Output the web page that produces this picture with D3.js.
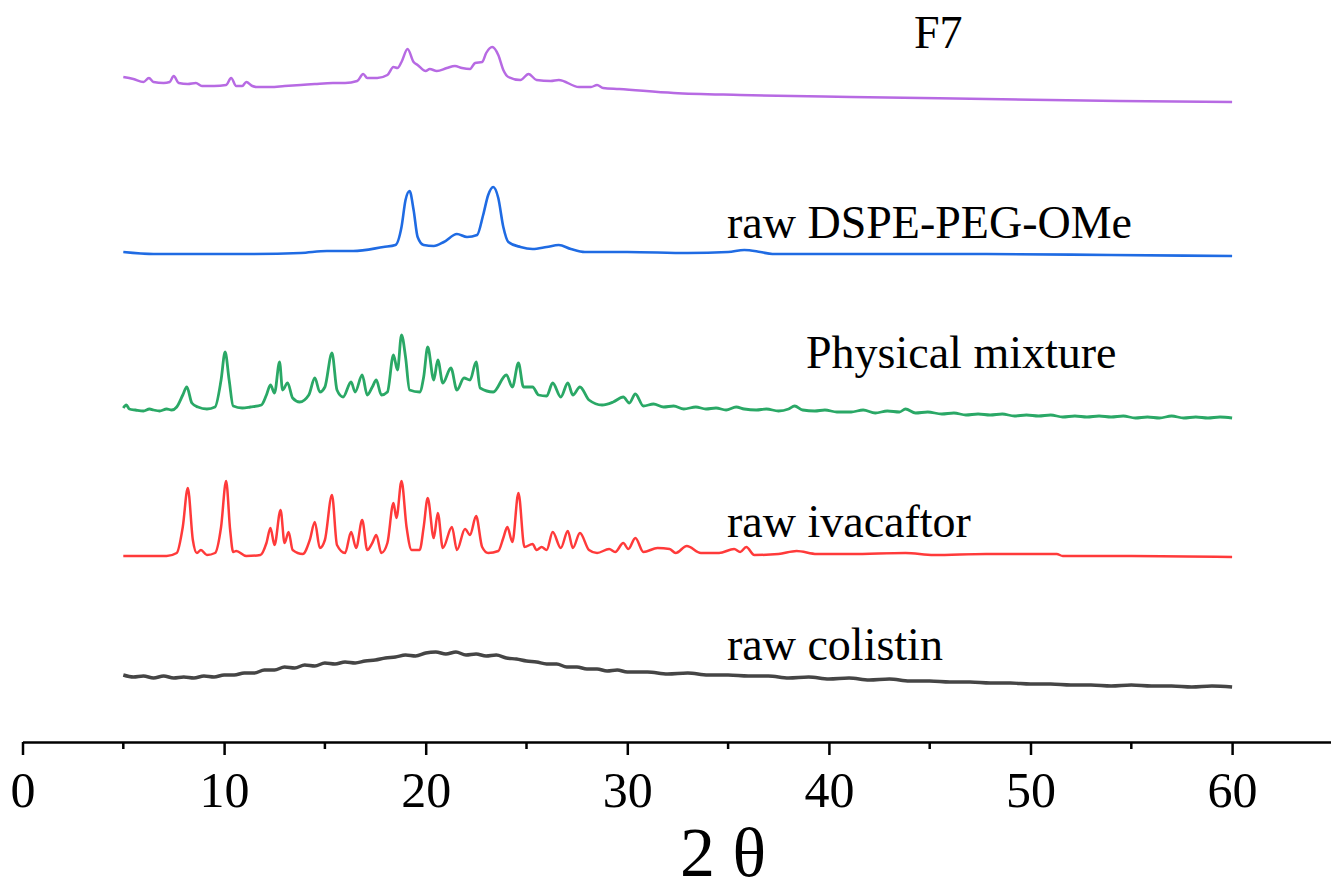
<!DOCTYPE html>
<html>
<head>
<meta charset="utf-8">
<script src="https://cdn.jsdelivr.net/npm/d3@7"></script>
<style>
  body { margin: 0; background: #fff; }
  svg { display: block; font-family: "Liberation Serif", "Times New Roman", serif; }
</style>
</head>
<body>
<div id="chart"></div>
<script>
// XRD patterns, [2 theta, intensity (a.u.)]
const f7 = [[5,25],[5.5,23],[6,20],[6.27,24],[6.5,20],[7,19],[7.3,20],[7.5,26],[7.75,19],[8.2,18],[8.6,19],[8.9,16],[9.5,16],[10.1,17],[10.35,24],[10.6,16],[10.9,16],[11.1,20],[11.4,16],[11.6,15],[12.3,15],[13,16],[13.8,17],[14.5,18],[15.4,19],[16,19],[16.6,21],[16.9,28],[17.1,24],[17.6,24],[18.1,27],[18.4,35],[18.6,34],[18.8,40],[19.1,53],[19.4,40],[19.6,37],[20,31],[20.2,33],[20.55,31],[21.05,34],[21.45,36],[21.8,34],[22.2,33],[22.45,39],[22.8,40],[23,49],[23.3,55],[23.6,47],[23.85,32],[24.1,25],[24.7,22],[25.1,28],[25.5,22],[26.2,21],[26.6,22],[27.6,15],[28.2,15],[28.5,17],[28.8,14],[29.6,13],[32.3,9],[35.6,7],[41.1,5],[47.8,3],[54.4,1],[60,0]];

const dspe = [[5,10],[6.5,8],[8.8,8],[11.3,8],[13.8,9],[15.1,11],[16.4,11],[17.9,15],[18.5,17],[18.8,35],[19,62],[19.2,71],[19.4,52],[19.6,25],[19.9,17],[20.4,16],[20.9,20],[21.55,28],[22.05,25],[22.55,27],[22.85,47],[23.1,67],[23.35,75],[23.6,64],[23.85,35],[24.1,20],[24.7,15],[25.3,13],[26,15],[26.6,17],[27.2,13],[27.9,10],[30,10],[33,9],[35,10],[35.8,12],[36.6,10],[37.2,8],[42,8],[47.8,8],[54,7],[60,6]];

const mixture = [[5,14],[5.15,17],[5.3,13],[5.6,12],[6,11],[6.3,13],[6.5,12],[6.8,11],[7.15,13],[7.4,12],[7.65,15],[7.95,27],[8.15,35],[8.4,19],[8.7,15],[9.15,13],[9.55,15],[9.85,42],[10.05,70],[10.25,42],[10.45,16],[10.9,14],[11.3,15],[11.85,17],[12.1,27],[12.3,37],[12.5,29],[12.75,60],[12.9,32],[13.15,39],[13.4,24],[13.75,20],[14.2,27],[14.5,44],[14.75,30],[15,35],[15.35,69],[15.6,32],[15.9,25],[16.3,40],[16.5,30],[16.85,47],[17.1,27],[17.35,35],[17.55,42],[17.8,27],[18.1,30],[18.4,67],[18.6,52],[18.8,87],[19,65],[19.2,32],[19.7,30],[19.9,45],[20.1,75],[20.4,42],[20.6,62],[20.85,39],[21.25,54],[21.55,32],[21.9,44],[22.2,42],[22.5,60],[22.7,34],[23.35,30],[24,47],[24.3,35],[24.6,59],[24.85,35],[25.3,35],[25.6,27],[26,26],[26.3,39],[26.7,25],[27.05,39],[27.3,27],[27.65,35],[28.1,22],[28.75,17],[29.3,20],[29.8,25],[30.1,19],[30.4,28],[30.8,16],[31.3,18],[31.8,15],[32.3,16],[32.8,13],[33.4,15],[33.9,13],[34.4,14],[34.9,12],[35.4,15],[35.8,13],[36.4,12],[36.9,13],[37.5,11],[38,13],[38.3,16],[38.7,12],[39.3,11],[39.8,12],[40.4,10],[41.1,10],[41.7,12],[42.3,9],[42.9,11],[43.5,10],[43.8,13],[44.3,9],[44.9,10],[45.6,8],[46.2,9],[46.8,7],[47.4,8],[48,7],[48.6,8],[49.2,6],[49.8,7],[50.4,6],[51,7],[51.6,5],[52.2,6],[52.8,5],[53.4,6],[54,5],[54.6,6],[55.2,4],[55.8,5],[56.4,4],[57,6],[57.6,4],[58.2,5],[58.8,4],[59.4,5],[60,4]];

const ivacaftor = [[5,1],[7.15,1],[7.65,4],[7.95,30],[8.2,69],[8.45,17],[8.65,4],[8.85,7],[9.15,2],[9.55,4],[9.85,30],[10.1,76],[10.3,27],[10.45,5],[10.6,6],[11.1,1],[11.8,2],[12.1,14],[12.3,29],[12.5,12],[12.8,47],[13,14],[13.2,25],[13.4,7],[13.9,3],[14.25,17],[14.5,35],[14.75,9],[15,17],[15.35,62],[15.6,12],[16,4],[16.3,25],[16.55,9],[16.85,37],[17.1,7],[17.35,14],[17.55,22],[17.8,4],[18.1,14],[18.4,54],[18.55,39],[18.8,76],[19.05,30],[19.3,7],[19.7,7],[19.9,30],[20.1,59],[20.4,19],[20.6,44],[20.85,9],[21.3,30],[21.55,7],[21.95,28],[22.2,22],[22.5,41],[22.8,10],[23.1,4],[23.6,6],[23.85,19],[24.05,30],[24.3,15],[24.6,64],[24.9,10],[25.3,13],[25.5,7],[25.75,10],[26,7],[26.3,25],[26.7,9],[27.05,26],[27.3,9],[27.65,24],[28.1,7],[28.5,4],[29.1,8],[29.4,5],[29.8,14],[30.05,8],[30.4,19],[30.8,5],[31.5,9],[32.1,8],[32.4,4],[32.95,11],[33.65,4],[34.55,4],[35.3,8],[35.6,5],[35.9,10],[36.3,2],[37.5,3],[38.4,6],[39.4,3],[41.1,3],[43.8,4],[45.2,2],[47.8,3],[51.3,3],[51.6,1],[55,1],[60,0]];

const colistin = [[5,17],[5.5,15],[6,16],[6.5,14],[7,16],[7.5,14],[8,15],[8.5,14],[9,16],[9.5,15],[10,17],[10.5,17],[11,19],[11.5,19],[12,22],[12.5,22],[13,25],[13.5,24],[14,27],[14.5,26],[15,29],[15.5,28],[16,30],[16.5,29],[17,31],[17.5,32],[18,34],[18.5,35],[19,37],[19.5,36],[20,39],[20.5,40],[21,38],[21.5,40],[22,37],[22.5,38],[23,36],[23.5,37],[24,34],[24.5,33],[25,31],[25.5,30],[26,28],[26.5,28],[27,25],[27.5,25],[28,23],[28.5,23],[29,21],[29.5,22],[30,20],[31,20],[32,18],[33,19],[34,17],[35,17],[36,16],[37,16],[38,14],[39,15],[40,13],[41,14],[42,12],[43,13],[44,11],[45,11],[46,10],[47,10],[48,9],[49,9],[50,8],[51,8],[52,7],[53,7],[54,6],[55,7],[56,6],[57,6],[58,5],[59,6],[60,5]];

const seriesNames = ["F7", "raw DSPE-PEG-OMe", "Physical mixture", "raw ivacaftor", "raw colistin"];
const seriesData = [f7, dspe, mixture, ivacaftor, colistin];
const seriesOffsets = [640, 480, 320, 185, 50];
const xTicks = [0, 10, 20, 30, 40, 50, 60];
const xMinorTicks = [5, 15, 25, 35, 45, 55];

// styles
const colors = ["#b76ae3", "#1f6be3", "#2aa866", "#ff3a3a", "#454545"];
const widths = [2.5, 2.6, 2.8, 2.5, 3.4];
const labelPos = [[914, 48], [727, 238], [806, 368], [727, 537], [727, 660]];

const width = 1331;
const height = 892;
const axisY = 742;

const svg = d3.select("#chart")
  .append("svg")
  .attr("width", width)
  .attr("height", height);

const x = d3.scaleLinear()
  .domain([0, 65])
  .range([22.5, 22.5 + 65 * 20.16]);

const y = d3.scaleLinear()
  .domain([0, 700])
  .range([axisY, axisY - 700]);

// Patterns
seriesData.forEach((data, i) => {
  const line = d3.line()
    .x(d => x(d[0]))
    .y(d => y(d[1] + seriesOffsets[i]))
    .curve(d3.curveMonotoneX);

  svg.append("path")
    .datum(data)
    .attr("fill", "none")
    .attr("stroke", colors[i])
    .attr("stroke-width", widths[i])
    .attr("stroke-linejoin", "round")
    .attr("d", line);

  svg.append("text")
    .attr("x", labelPos[i][0])
    .attr("y", labelPos[i][1])
    .style("font-size", "46px")
    .style("fill", "black")
    .text(seriesNames[i]);
});

// X-axis
const xAxis = svg.append("g")
  .attr("transform", `translate(0, ${axisY})`)
  .call(d3.axisBottom(x)
    .tickValues(xTicks)
    .tickSize(13)
    .tickSizeOuter(0)
    .tickPadding(16));

xAxis.selectAll("text")
  .style("font-size", "50px")
  .style("font-family", "Liberation Serif, serif")
  .style("fill", "black");

xAxis.select(".domain").style("stroke", "black").style("stroke-width", 2.5);
xAxis.selectAll(".tick line").style("stroke", "black").style("stroke-width", 2.5);

// minor ticks
xAxis.selectAll(".minor")
  .data(xMinorTicks)
  .enter()
  .append("line")
  .attr("class", "minor")
  .attr("x1", d => x(d))
  .attr("x2", d => x(d))
  .attr("y1", 0)
  .attr("y2", 7)
  .style("stroke", "black")
  .style("stroke-width", 2.5);

svg.append("text")
  .attr("x", 723)
  .attr("y", 876)
  .attr("text-anchor", "middle")
  .style("font-size", "70px")
  .style("fill", "black")
  .text("2 θ");
</script>
</body>
</html>
